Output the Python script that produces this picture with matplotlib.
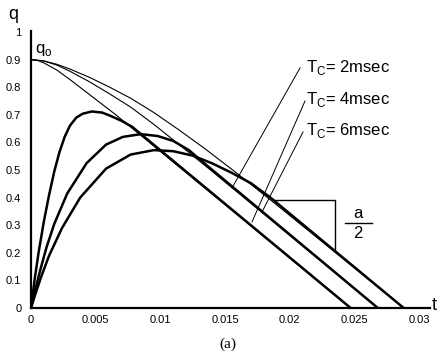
import matplotlib
matplotlib.use('Agg')
import matplotlib.pyplot as plt
from matplotlib.lines import Line2D

plt.rcParams['font.family'] = ['Liberation Sans', 'DejaVu Sans']

# thin curves: start at q0 and bend onto the linear decline
thin6_t = [0, 0.001, 0.002, 0.003, 0.0045, 0.006, 0.0077, 0.0095, 0.0115, 0.0135, 0.016, 0.019, 0.0288]
thin6_q = [0.9, 0.895, 0.883, 0.866, 0.836, 0.802, 0.760, 0.708, 0.643, 0.575, 0.485, 0.373, 0]
thin4_t = [0, 0.001, 0.002, 0.003, 0.0045, 0.006, 0.0077, 0.0095, 0.0115, 0.014, 0.0268]
thin4_q = [0.9, 0.895, 0.880, 0.858, 0.820, 0.778, 0.728, 0.665, 0.590, 0.495, 0]
thin2_t = [0, 0.0005, 0.001, 0.002, 0.003, 0.004, 0.005, 0.0065, 0.0247]
thin2_q = [0.9, 0.897, 0.888, 0.862, 0.828, 0.792, 0.756, 0.702, 0]

# thick curves: rise from zero, peak, then the same linear decline
thick2_t = [0, 0.0003, 0.0006, 0.001, 0.0014, 0.0018, 0.0022, 0.0026, 0.003, 0.0035, 0.004,
            0.0047, 0.0055, 0.0062, 0.007, 0.0078, 0.0247]
thick2_q = [0, 0.11, 0.205, 0.315, 0.41, 0.495, 0.565, 0.62, 0.66, 0.69, 0.704,
            0.712, 0.708, 0.695, 0.678, 0.657, 0]
thick4_t = [0, 0.0003, 0.0007, 0.0012, 0.0018, 0.0028, 0.0043, 0.0058, 0.0071, 0.0085,
            0.0098, 0.011, 0.0122, 0.0135, 0.0268]
thick4_q = [0, 0.06, 0.135, 0.22, 0.305, 0.415, 0.525, 0.592, 0.62, 0.63,
            0.623, 0.605, 0.572, 0.52, 0]
thick6_t = [0, 0.0003, 0.0008, 0.0014, 0.0024, 0.0038, 0.0058, 0.0077, 0.0095, 0.011,
            0.0125, 0.014, 0.0155, 0.017, 0.0185, 0.0288]
thick6_q = [0, 0.045, 0.115, 0.19, 0.29, 0.40, 0.505, 0.556, 0.572, 0.568,
            0.552, 0.524, 0.49, 0.452, 0.40, 0]

# slope triangle on the upper line
tri_t = [0.0188, 0.0235, 0.0235]
tri_q = [0.391, 0.391, 0.21]

labels = ['T$_\\mathregular{C}$= 2msec', 'T$_\\mathregular{C}$= 4msec', 'T$_\\mathregular{C}$= 6msec']
xticks = [0, 0.005, 0.01, 0.015, 0.02, 0.025, 0.03]
xtick_labels = ['0', '0.005', '0.01', '0.015', '0.02', '0.025', '0.03']
yticks = [0, 0.1, 0.2, 0.3, 0.4, 0.5, 0.6, 0.7, 0.8, 0.9, 1.0]
ytick_labels = ['0', '0.1', '0.2', '0.3', '0.4', '0.5', '0.6', '0.7', '0.8', '0.9', '1']

W, H = 445, 353
fig = plt.figure(figsize=(W / 100, H / 100), dpi=100)
ax = fig.add_axes([31 / W, 1 - 308 / H, 399 / W, 277 / H])

for t, q in [(thin6_t, thin6_q), (thin4_t, thin4_q), (thin2_t, thin2_q)]:
    ax.plot(t, q, color='black', lw=0.8)
for t, q in [(thick2_t, thick2_q), (thick4_t, thick4_q), (thick6_t, thick6_q)]:
    ax.plot(t, q, color='black', lw=1.8, solid_capstyle='butt', solid_joinstyle='round')

ax.plot(tri_t, tri_q, color='black', lw=1.0)

# leader lines from the labels
leaders = [((0.02079, 0.870), (0.01553, 0.435)),
           ((0.02117, 0.750), (0.01708, 0.312)),
           ((0.02102, 0.638), (0.01785, 0.348))]
for (x1, y1), (x2, y2) in leaders:
    ax.plot([x1, x2], [y1, y2], color='black', lw=0.7)

for lab, yb in zip(labels, [0.855, 0.739, 0.627]):
    ax.text(0.02125, yb, lab, fontsize=12, ha='left', va='baseline')

ax.text(0.0003, 0.924, 'q$_\\mathregular{o}$', fontsize=12, ha='left', va='baseline')

ax.set_xlim(0, 0.03083)
ax.set_ylim(0, 1.0036)
ax.set_xticks(xticks)
ax.set_xticklabels(xtick_labels)
ax.set_yticks(yticks)
ax.set_yticklabels(ytick_labels)
ax.tick_params(length=0, labelsize=8)
ax.tick_params(axis='y', pad=7)
ax.tick_params(axis='x', pad=5)
for s in ['top', 'right']:
    ax.spines[s].set_visible(False)
for s in ['left', 'bottom']:
    ax.spines[s].set_linewidth(1.6)

fig.text(8 / W, 1 - 19 / H, 'q', fontsize=13, ha='left', va='baseline')
fig.text(432 / W, 1 - 310 / H, 't', fontsize=13, ha='left', va='baseline')
fig.text(228 / W, 1 - 344 / H, '(a)', fontsize=11, ha='center', va='center',
         family='Liberation Serif')

# a/2 next to the slope triangle
fig.text(358 / W, 1 - 213 / H, 'a', fontsize=12, ha='center', va='center')
fig.text(358 / W, 1 - 234 / H, '2', fontsize=12, ha='center', va='center')
fig.add_artist(Line2D([345 / W, 372 / W], [1 - 222.5 / H] * 2, color='black', lw=1.0))

plt.savefig('out.png', dpi=100)
